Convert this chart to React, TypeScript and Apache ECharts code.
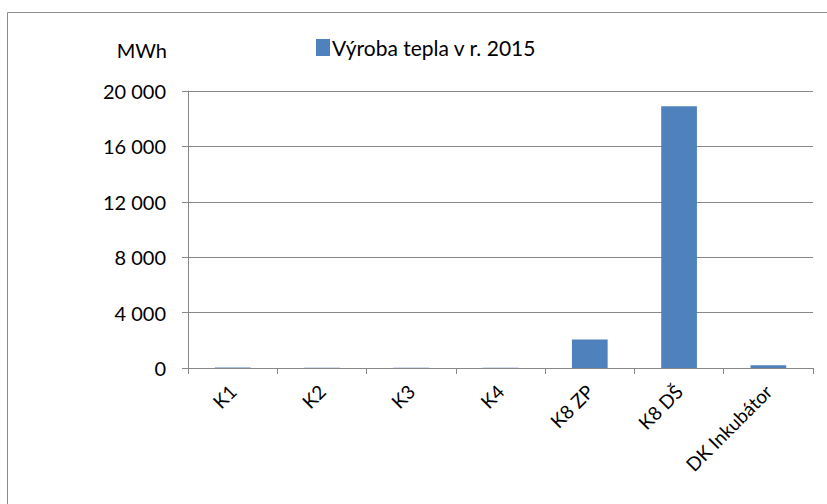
import React, { useEffect, useRef } from "react";
import * as echarts from "echarts";

const categories = ["K1", "K2", "K3", "K4", "K8 ZP", "K8 DŠ", "DK Inkubátor"];
const values = [30, 25, 25, 25, 2060, 18900, 190];
const seriesName = "Výroba tepla v r. 2015";
const unitLabel = "MWh";

const FONT = "Lato";

export default function App() {
  const ref = useRef<HTMLDivElement>(null);
  useEffect(() => {
    const chart = echarts.init(ref.current!, null, { renderer: "svg" });
    chart.setOption({
      animation: false,
      backgroundColor: "#ffffff",
      textStyle: { fontFamily: FONT },
      graphic: [
        {
          type: "rect",
          shape: { x: 7.5, y: 12.5, width: 900, height: 600 },
          style: { fill: "none", stroke: "#8c8c8c", lineWidth: 1 },
          silent: true,
        },
        {
          type: "text",
          x: 167,
          y: 50,
          style: {
            text: unitLabel,
            fontFamily: FONT,
            fontSize: 20,
            fill: "#000",
            align: "right",
            verticalAlign: "middle",
          },
        },
      ],
      legend: {
        show: true,
        left: 316,
        top: 37,
        itemWidth: 14,
        itemHeight: 17,
        itemGap: 4,
        icon: "rect",
        textStyle: { fontFamily: FONT, fontSize: 21, color: "#000", padding: [0, 0, 0, -3] },
        data: [seriesName],
        padding: 0,
      },
      grid: { left: 188, right: 14, top: 91, bottom: 136, containLabel: false },
      xAxis: {
        type: "category",
        data: categories,
        axisLine: { lineStyle: { color: "#888888", width: 1 } },
        axisTick: { show: true, length: 6, alignWithLabel: false, lineStyle: { color: "#888888" } },
        axisLabel: {
          rotate: 45,
          interval: 0,
          margin: 20,
          fontFamily: FONT,
          fontSize: 19,
          color: "#000",
        },
      },
      yAxis: {
        type: "value",
        min: 0,
        max: 20000,
        interval: 4000,
        axisLine: { show: true, lineStyle: { color: "#888888", width: 1 } },
        axisTick: { show: true, length: 6, lineStyle: { color: "#888888" } },
        splitLine: { show: true, lineStyle: { color: "#888888", width: 1 } },
        axisLabel: {
          margin: 22,
          fontFamily: FONT,
          fontSize: 20,
          color: "#000",
          formatter: (v: number) => {
            const s = String(Math.round(v));
            return s.replace(/\B(?=(\d{3})+(?!\d))/g, " ");
          },
        },
      },
      series: [
        {
          name: seriesName,
          type: "bar",
          data: values,
          barCategoryGap: "60%",
          itemStyle: { color: "#4F81BD" },
        },
      ],
    });
    return () => chart.dispose();
  }, []);
  return <div ref={ref} style={{ width: 827, height: 504, position: "absolute", left: 0, top: 0 }} />;
}
